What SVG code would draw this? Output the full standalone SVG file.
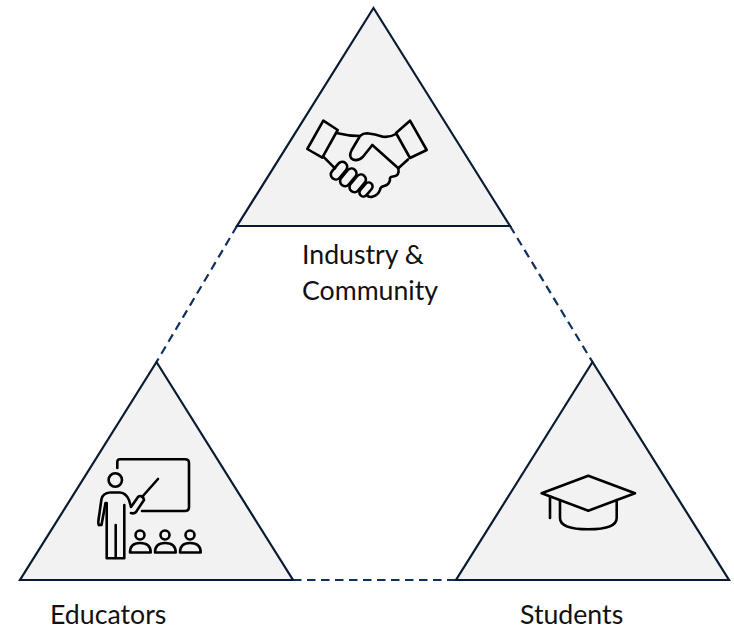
<svg xmlns="http://www.w3.org/2000/svg" width="734" height="631" viewBox="0 0 734 631">
<style>
.tri{fill:#f2f2f2;stroke:#0b1a33;stroke-width:2.200;stroke-linejoin:miter}
.dash{fill:none;stroke:#0f3060;stroke-width:2.200;stroke-dasharray:8.500 5.500}
.ico{fill:none;stroke:#000;stroke-width:2.600;stroke-linejoin:round;stroke-linecap:round}
.lbl{font-family:Lato,"Liberation Sans",sans-serif;font-size:26.700px;fill:#111}
</style>
<rect width="734" height="631" fill="#fff"/>
<g id="connectors">
<path class="dash" d="M237 226L156.500 362"/>
<path class="dash" d="M510 226L592.500 362"/>
<path class="dash" d="M293 580H456"/>
</g>
<g id="industry">
<path class="tri" d="M373.500 8L510 226H237Z"/>
<g class="ico">
<path d="M323.300 120.700L337.700 130L322.300 157.700L307.300 149Z"/>
<path d="M410 120.700L396 133L410 158L426.700 150Z"/>
<path d="M337.700 133.300Q348 136 360 136Q363 133.300 367 133.300Q375 134 383 136.700Q390 137.500 396 134"/>
<path d="M360 136L351.700 150Q348 157 353 159.500Q358 161.500 363 156.700L372.300 145L398.300 168.300"/>
<path d="M323.300 156.700L335 168.300"/>
<path d="M408 159.500L398.300 168.300Q400 176 393 176.500Q389 177 390 180Q389 185 384 186Q380 187 380 190Q378 195 373 196.500Q369 198 366.700 195"/>
<rect x="-5" y="-10" width="10" height="20" rx="5" transform="translate(339 170.700) rotate(40)"/>
<rect x="-5" y="-10" width="10" height="20" rx="5" transform="translate(348.300 177.300) rotate(40)"/>
<rect x="-5" y="-10" width="10" height="20" rx="5" transform="translate(357.700 183.300) rotate(40)"/>
<rect x="-4" y="-8" width="8" height="16" rx="4" transform="translate(366 189.500) rotate(40)"/>
</g>
<text class="lbl" x="302" y="264">Industry &amp;</text>
<text class="lbl" x="302" y="300">Community</text>
</g>
<g id="educators">
<path class="tri" d="M156.500 362L293 580H20Z"/>
<g class="ico">
<path d="M117.300 468V462Q117.300 459.300 120 459.300H185Q189 459.300 189 463V507Q189 511 185 511H142"/>
<circle cx="115.300" cy="480" r="6.700"/>
<path d="M158 479L142 497"/>
<path d="M99 525L101.500 525L105.500 503"/>
<path d="M99 525Q98 524 98.500 520L101.500 499Q103 493 110 492.500H120Q126 493 129 500L131 507L138 497Q140 495 143 497L144 500L136 512Q134 514 131 513"/>
<path d="M106.700 503V558.300H124.300V505"/>
<path d="M115.700 525V558"/>
<circle cx="140" cy="535" r="4.500"/>
<path d="M130 552.500Q130 543 140 543Q150.700 543 150.700 552.500Z"/>
<circle cx="165" cy="535" r="4.500"/>
<path d="M155 552.500Q155 543 165 543Q175.700 543 175.700 552.500Z"/>
<circle cx="190" cy="535" r="4.500"/>
<path d="M180 552.500Q180 543 190 543Q200.700 543 200.700 552.500Z"/>
</g>
<text class="lbl" x="50" y="624">Educators</text>
</g>
<g id="students">
<path class="tri" d="M592.500 362L729 580H456Z"/>
<g class="ico">
<path d="M588.300 475.700L635 493.300L588.300 510.700L541.700 493.300Z"/>
<path d="M550 496.500V518"/>
<path d="M560 500V518Q560 529.300 588.300 529.300Q616.700 529.300 616.700 518V500"/>
</g>
<text class="lbl" x="520" y="624">Students</text>
</g>
</svg>
